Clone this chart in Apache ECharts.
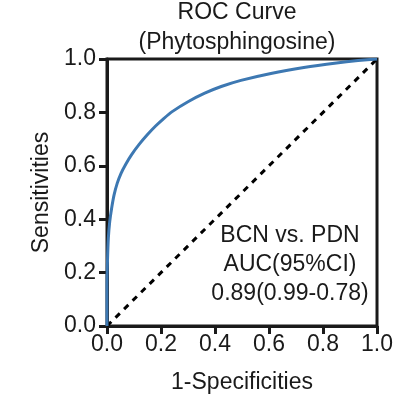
<!DOCTYPE html>
<html>
<head>
<meta charset="utf-8">
<script src="https://cdn.jsdelivr.net/npm/echarts@6/dist/echarts.min.js"></script>
<style>
	html, body { margin: 0; padding: 0; background: #fff; }
	#chartmain { width: 396px; height: 399px; }
</style>
</head>
<body>
<div id="chartmain"></div>
<script>
// ROC curve points
var fpr = [0, 0, 0.002, 0.005, 0.01, 0.017, 0.026, 0.038, 0.052, 0.07, 0.09, 0.119, 0.15, 0.18, 0.21, 0.24, 0.30, 0.362, 0.423, 0.496, 0.607, 0.729, 0.85, 0.93, 1.0];
var tpr = [0, 0.15, 0.25, 0.33, 0.39, 0.44, 0.49, 0.535, 0.572, 0.607, 0.64, 0.68, 0.717, 0.749, 0.777, 0.802, 0.84, 0.872, 0.897, 0.92, 0.946, 0.968, 0.985, 0.994, 1.0];
var refX = [0, 1];
var refY = [0, 1];
var ticks = [0, 0.2, 0.4, 0.6, 0.8, 1.0];
var titleLines = ['ROC Curve', '(Phytosphingosine)'];
var noteLines = ['BCN vs. PDN', 'AUC(95%CI)', '0.89(0.99-0.78)'];

var font = 'Liberation Sans, Arial, sans-serif';
var ink = '#1a1a1a';
var fs = 23;

function pairs(xs, ys) {
	var out = [];
	for (var i = 0; i < xs.length; i++) {
		out.push([xs[i], ys[i]]);
	}
	return out;
}

var axisCommon = {
	type : 'value',
	min : ticks[0],
	max : ticks[ticks.length - 1],
	interval : 0.2,
	nameLocation : 'middle',
	nameTextStyle : { fontFamily : font, fontSize : fs, color : ink },
	axisLine : { show : true, lineStyle : { color : ink, width : 3 } },
	axisTick : { show : true, length : 8, lineStyle : { color : ink, width : 3 } },
	axisLabel : {
		fontFamily : font, fontSize : fs, color : ink,
		formatter : function(v) { return v.toFixed(1); }
	},
	splitLine : { show : false }
};

var option = {
	animation : false,
	backgroundColor : '#fff',
	title : [{
		text : titleLines.join('\n'),
		left : 237,
		textAlign : 'center',
		top : -2,
		padding : 0,
		textStyle : { fontFamily : font, fontSize : fs, fontWeight : 'normal', color : ink, lineHeight : 30 }
	}, {
		text : noteLines.join('\n'),
		left : 290,
		textAlign : 'center',
		top : 221,
		padding : 0,
		textStyle : { fontFamily : font, fontSize : fs, fontWeight : 'normal', color : ink, lineHeight : 29 }
	}],
	grid : {
		left : 107,
		top : 59,
		width : 274,
		height : 267,
		show : true,
		borderColor : ink,
		borderWidth : 3,
		backgroundColor : 'transparent'
	},
	xAxis : Object.assign({}, axisCommon, {
		name : '1-Specificities',
		nameGap : 45,
		axisLabel : Object.assign({}, axisCommon.axisLabel, { margin : 7 })
	}),
	yAxis : Object.assign({}, axisCommon, {
		name : 'Sensitivities',
		nameGap : 53,
		axisLabel : Object.assign({}, axisCommon.axisLabel, { margin : 11 })
	}),
	series : [{
		name : 'reference',
		type : 'line',
		data : pairs(refX, refY),
		showSymbol : false,
		lineStyle : { color : '#000', width : 3, type : [6, 6] },
		z : 2
	}, {
		name : 'ROC',
		type : 'line',
		data : pairs(fpr, tpr),
		smooth : 0.2,
		showSymbol : false,
		lineStyle : { color : '#3d78b2', width : 3 },
		z : 3
	}]
};

var myChart = echarts.init(document.getElementById('chartmain'));
myChart.setOption(option);
</script>
</body>
</html>
